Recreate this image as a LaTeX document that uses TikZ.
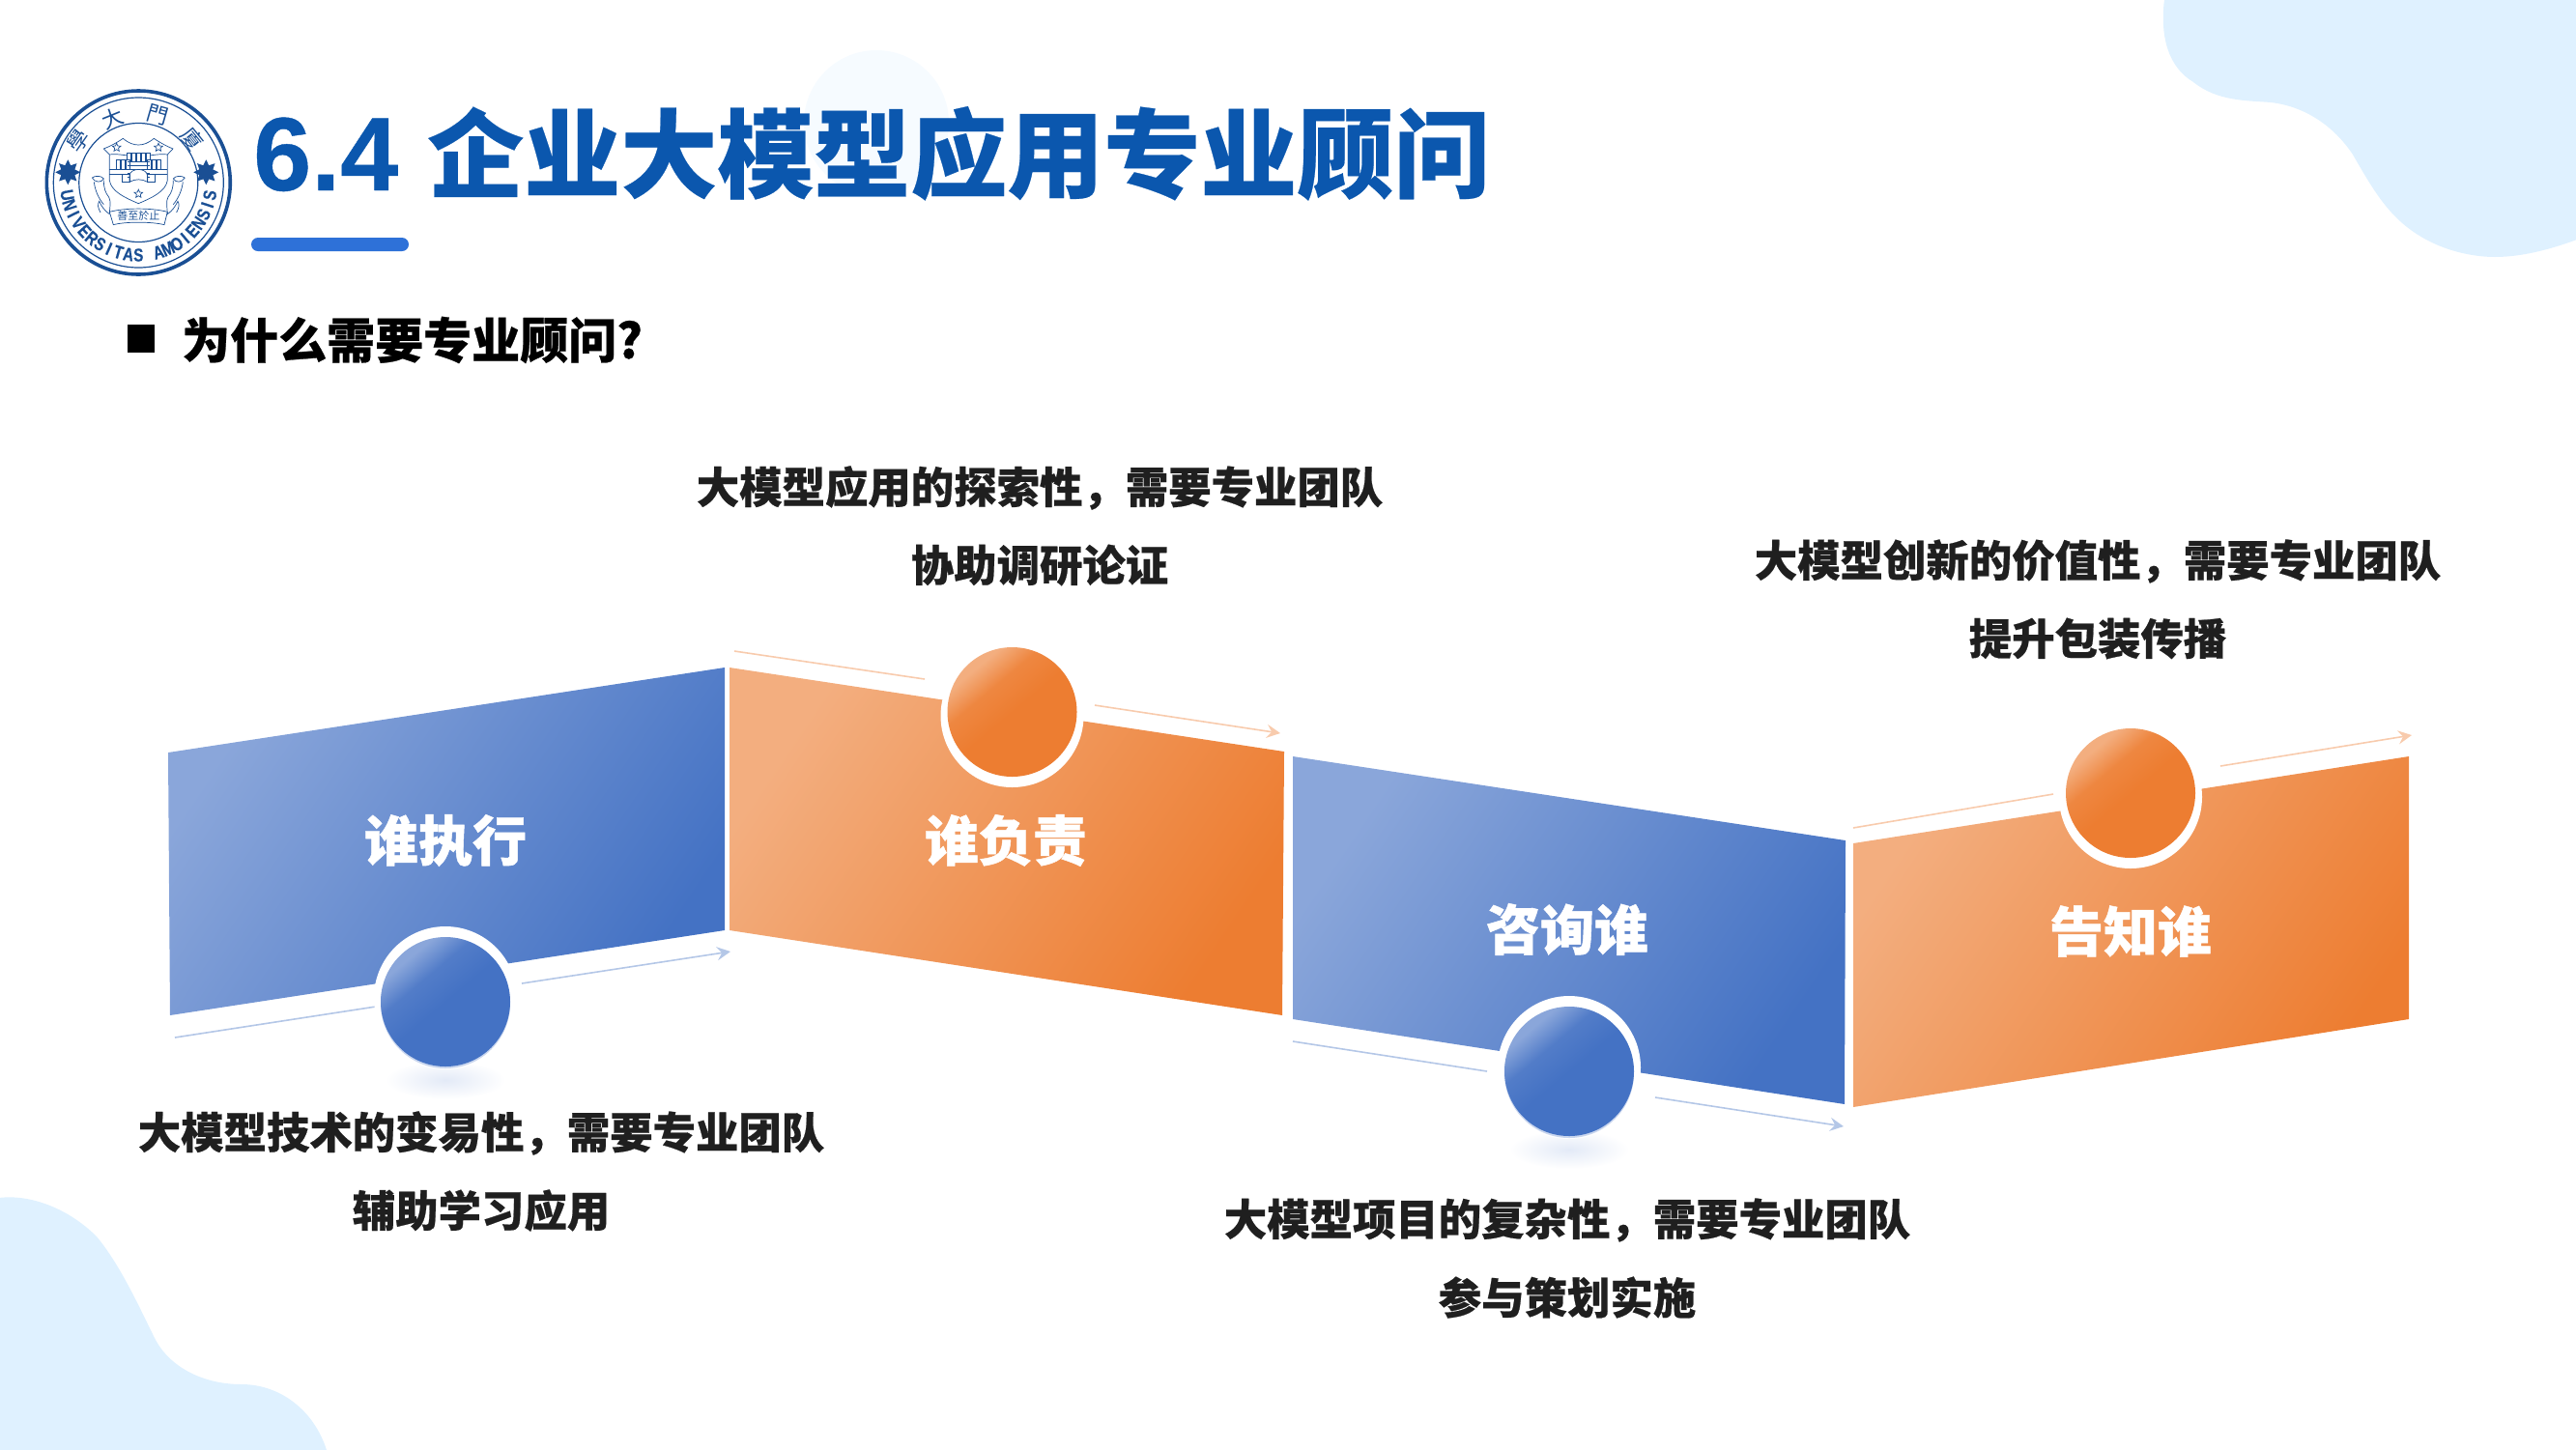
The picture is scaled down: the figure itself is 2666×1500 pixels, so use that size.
\documentclass[tikz,border=0pt]{standalone}
\usepackage{fontspec}
\usetikzlibrary{arrows.meta,shapes.geometric}
\setmainfont{Liberation Sans}
\newfontfamily\cjkt{Noto Sans CJK SC}[BoldFeatures={FakeBold=0.25}]
\newfontfamily\cjkl{Noto Sans CJK SC}[BoldFeatures={FakeBold=0.5}]
\newfontfamily\cjkw{Noto Sans CJK SC}[BoldFeatures={FakeBold=0.8}]
\newfontfamily\cjktc{Noto Sans CJK TC}
\newfontfamily\latn{Liberation Sans}[BoldFeatures={FakeBold=0.4}]
\definecolor{bluelight}{HTML}{8AA6DA}
\definecolor{bluedark}{HTML}{4472C4}
\definecolor{orangelight}{HTML}{F3AE7F}
\definecolor{orangedark}{HTML}{ED7D31}
\definecolor{blobc}{HTML}{DFF1FF}
\definecolor{faintc}{HTML}{F6FBFF}
\definecolor{titlec}{HTML}{0B57AE}
\definecolor{barc}{HTML}{2E71D8}
\definecolor{logoc}{HTML}{1A4F94}
\definecolor{arrowb}{HTML}{B4C7E7}
\definecolor{arrowo}{HTML}{F8CBAD}
\definecolor{labelc}{HTML}{1F1F1F}
\definecolor{shadowc}{HTML}{E3EAF7}
\definecolor{ringb}{HTML}{C9D6EE}
\pgfdeclareverticalshading{ballblue}{100bp}{color(0bp)=(bluedark); color(50bp)=(bluedark); color(62bp)=(bluedark!80!bluelight); color(72bp)=(bluelight); color(100bp)=(bluelight)}
\pgfdeclareverticalshading{ballorange}{100bp}{color(0bp)=(orangedark); color(50bp)=(orangedark); color(62bp)=(orangedark!80!orangelight); color(72bp)=(orangelight); color(100bp)=(orangelight)}
\tikzset{
  panelblue/.style={left color=bluelight,right color=bluedark,shading angle=56},
  panelorange/.style={left color=orangelight,right color=orangedark,shading angle=56},
  paneltext/.style={font=\fontsize{56}{60}\selectfont\cjkw\bfseries,text=white,inner sep=0pt},
  labeltext/.style={font=\fontsize{44.4}{48}\selectfont\cjkl\bfseries,text=labelc,inner sep=0pt},
  arrowblue/.style={draw=arrowb,line width=1.6pt},
  arroworange/.style={draw=arrowo,line width=1.6pt},
  headtip/.style={-{Stealth[length=14pt,width=14pt,inset=5pt]}},
  ballb/.style={circle,minimum size=134pt,inner sep=0pt,shading=ballblue,shading angle=40},
  ballo/.style={circle,minimum size=134pt,inner sep=0pt,shading=ballorange,shading angle=40},
  ringw/.style={circle,fill=white,minimum size=148pt,inner sep=0pt},
  logoline/.style={draw=logoc,line width=0.7pt},
  logostar/.style={star,star points=8,star point ratio=1.7,fill=logoc,inner sep=0pt,minimum size=26pt},
  crestar/.style={star,star points=5,star point ratio=2.2,logoline,inner sep=0pt,minimum size=9pt}
}
\begin{document}
\begin{tikzpicture}[x=1pt,y=-1pt]
\useasboundingbox (0,0) rectangle (2666,1500);
% background blobs
\fill[blobc] (2240,-1) .. controls (2235,40) and (2245,70) .. (2270,85) .. controls (2295,105) and (2325,104) .. (2350,106) .. controls (2385,110) and (2415,130) .. (2435,160) .. controls (2455,195) and (2470,220) .. (2495,238) .. controls (2525,260) and (2560,266) .. (2582,266) .. controls (2610,266) and (2640,258) .. (2667,248) -- (2667,-1) -- cycle;
\fill[blobc] (-1,1240) .. controls (30,1236) and (70,1250) .. (100,1280) .. controls (125,1310) and (145,1355) .. (160,1385) .. controls (175,1415) and (210,1433) .. (250,1433) .. controls (290,1433) and (325,1460) .. (338,1501) -- (-1,1501) -- cycle;
\fill[faintc] (907,127) circle[radius=75];
% logo
\begin{scope}[shift={(143.3,189)},x=1pt,y=1pt]
  \draw[logoc,line width=3.6pt] (0,0) circle[radius=95];
  \draw[logoc,line width=1.2pt] (0,0) circle[radius=88];
  \draw[logoc,line width=1.2pt] (0,0) circle[radius=61.5];
  \foreach \ch/\ang/\rad [count=\i] in {學/145/76,大/112/72,門/74/73,廈/39/72}{
    \pgfmathsetmacro{\rot}{\ang-90}
    \node[rotate=\rot,inner sep=0pt,text=logoc,font=\fontsize{22}{22}\selectfont\cjktc] (top\i) at (\ang:\rad) {\ch};
  }
  \foreach \ch [count=\i] in {U,N,I,V,E,R,S,I,T,A,S,{},A,M,O,I,E,N,S,I,S}{
    \pgfmathsetmacro{\ang}{190+(\i-1)*8}
    \pgfmathsetmacro{\rot}{\ang+90}
    \node[rotate=\rot,xscale=0.8,inner sep=0pt,text=logoc,font=\fontsize{19}{19}\selectfont\latn\bfseries] (let\i) at (\ang:75) {\ch};
  }
  \node[logostar] (starl) at (-73,10.7) {};
  \node[logostar] (starr) at (70,10.7) {};
\end{scope}
\begin{scope}[shift={(30,80)},x=0.3333pt,y=-0.3333pt]
  \draw[logoline] (232,222) .. controls (250,215) and (270,205) .. (292,190) .. controls (310,205) and (325,210) .. (340,210) .. controls (355,210) and (370,205) .. (388,190) .. controls (410,205) and (430,215) .. (447,222) -- (430,240) -- (430,320) .. controls (425,355) and (380,375) .. (340,392) .. controls (300,375) and (255,355) .. (250,320) -- (250,240) -- cycle;
  \draw[logoline] (250,240) .. controls (280,236) and (310,246) .. (340,246) .. controls (370,246) and (400,236) .. (430,240);
  \draw[logoline] (250,285) -- (430,285) (250,302) -- (310,302) (370,302) -- (430,302);
  \foreach \px in {310,325,340,355,370}{\draw[logoline,fill=white] (\px-6,236) rectangle (\px+6,262);}
  \foreach \px in {278,292,306,374,388,402}{\draw[logoline,fill=white] (\px-6,256) rectangle (\px+6,285);}
  \foreach \py in {262,274,286,298,310}{\draw[logoline] (305,\py) -- (375,\py);}
  \draw[logoline,fill=white] (312,325) -- (312,305) .. controls (315,280) and (365,280) .. (368,305) -- (368,325);
  \draw[logoline] (290,300) rectangle (312,325) (368,300) rectangle (390,325);
  \draw[logoline] (312,325) .. controls (330,315) and (350,315) .. (368,325);
  \node[crestar] (cs1) at (272,218) {};
  \node[crestar] (cs2) at (402,218) {};
  \node[crestar] (cs3) at (340,362) {};
  \draw[logoline] (196,312) .. controls (205,305) and (225,305) .. (232,315) .. controls (225,328) and (205,328) .. (196,312);
  \draw[logoline] (202,325) .. controls (205,350) and (215,375) .. (232,395) (232,320) .. controls (232,345) and (238,360) .. (248,372) .. controls (256,385) and (250,410) .. (250,425) .. controls (235,415) and (225,400) .. (218,385) .. controls (212,395) and (214,405) .. (222,420);
  \draw[logoline] (484,312) .. controls (475,305) and (455,305) .. (448,315) .. controls (455,328) and (475,328) .. (484,312);
  \draw[logoline] (478,325) .. controls (475,350) and (465,375) .. (448,395) (448,320) .. controls (448,345) and (442,360) .. (432,372) .. controls (424,385) and (430,410) .. (430,425) .. controls (445,415) and (455,400) .. (462,385) .. controls (468,395) and (466,405) .. (458,420);
  \draw[logoline] (250,418) .. controls (300,405) and (380,405) .. (430,418) -- (420,458) .. controls (380,448) and (300,448) .. (262,458) -- cycle;
  \node[inner sep=0pt,text=logoc,font=\fontsize{11}{11}\selectfont\cjktc] (motto) at (340,430) {善至於止};
\end{scope}
% title
\node[anchor=base west,inner sep=0pt,text=titlec] (title) at (262,197) {\fontsize{108}{110}\selectfont\latn\bfseries 6.4 \fontsize{100}{110}\selectfont\cjkt\bfseries 企业大模型应用专业顾问};
\fill[barc,rounded corners=7pt] (260,246) rectangle (423,260);
% bullet
\fill[black] (132,336) rectangle (160,365);
\node[anchor=west,inner sep=0pt,text=black,font=\fontsize{50}{54}\selectfont\cjkl\bfseries] (head) at (188,352) {为什么需要专业顾问?};
% panels
\shade[panelblue] (174,779) -- (750,691) -- (750,963) -- (176,1051) -- cycle;
\shade[panelorange] (755,691) -- (1329,778) -- (1327,1051) -- (755,963) -- cycle;
\shade[panelblue] (1338,783) -- (1910,870) -- (1909,1143) -- (1338,1055) -- cycle;
\shade[panelorange] (1918,873) -- (2493,783) -- (2493,1055) -- (1918,1146) -- cycle;
% connectors (named ends)
\coordinate (a1s) at (181,1074); \coordinate (a1m) at (389,1042); \coordinate (a1n) at (540,1018); \coordinate (a1e) at (756,985);
\coordinate (a2s) at (760,674); \coordinate (a2m) at (957,703); \coordinate (a2n) at (1133,730); \coordinate (a2e) at (1325,759);
\coordinate (a3s) at (1338,1078); \coordinate (a3m) at (1539,1109); \coordinate (a3n) at (1713,1136); \coordinate (a3e) at (1908,1166);
\coordinate (a4s) at (1918,857); \coordinate (a4m) at (2125,822); \coordinate (a4n) at (2298,793); \coordinate (a4e) at (2496,761);
\draw[arrowblue] (a1s) -- (a1m);
\draw[arrowblue,headtip] (a1n) -- (a1e);
\draw[arroworange] (a2s) -- (a2m);
\draw[arroworange,headtip] (a2n) -- (a2e);
\draw[arrowblue] (a3s) -- (a3m);
\draw[arrowblue,headtip] (a3n) -- (a3e);
\draw[arroworange] (a4s) -- (a4m);
\draw[arroworange,headtip] (a4n) -- (a4e);
% shadows
\shade[inner color=shadowc,outer color=white] (461,1118) ellipse[x radius=62,y radius=20];
\shade[inner color=shadowc,outer color=white] (1624,1190) ellipse[x radius=62,y radius=20];
% balls
\node[ringw] (r1) at (461,1033) {};
\fill[ringb] (461,1039) circle[radius=67];
\node[ballb] (c1) at (461,1037) {};
\node[ringw] (r2) at (1047.5,741) {};
\node[ballo] (c2) at (1047.5,737) {};
\node[ringw] (r3) at (1624,1105) {};
\fill[ringb] (1624,1111) circle[radius=67];
\node[ballb] (c3) at (1624,1109) {};
\node[ringw] (r4) at (2205,825) {};
\node[ballo] (c4) at (2205,821) {};
% panel texts
\node[paneltext] (p1) at (461,870) {谁执行};
\node[paneltext] (p2) at (1041,870) {谁负责};
\node[paneltext] (p3) at (1622,962) {咨询谁};
\node[paneltext] (p4) at (2205,964) {告知谁};
% labels
\node[labeltext] (l1a) at (498,1173) {大模型技术的变易性，需要专业团队};
\node[labeltext] (l1b) at (498,1253) {辅助学习应用};
\node[labeltext] (l2a) at (1076,505) {大模型应用的探索性，需要专业团队};
\node[labeltext] (l2b) at (1076,585) {协助调研论证};
\node[labeltext] (l3a) at (1622,1263) {大模型项目的复杂性，需要专业团队};
\node[labeltext] (l3b) at (1622,1343) {参与策划实施};
\node[labeltext] (l4a) at (2171,581) {大模型创新的价值性，需要专业团队};
\node[labeltext] (l4b) at (2171,661) {提升包装传播};
\end{tikzpicture}
\end{document}
